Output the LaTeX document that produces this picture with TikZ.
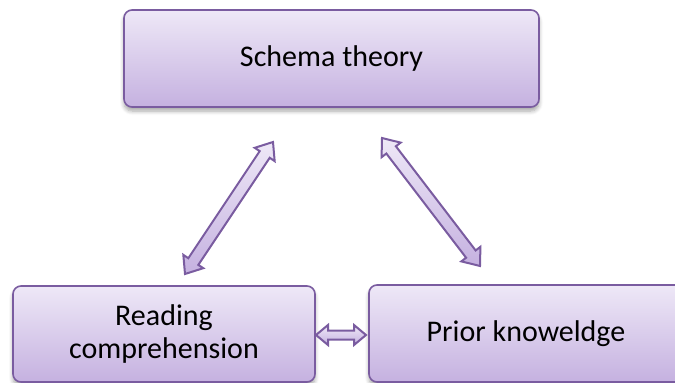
\documentclass[tikz,border=0pt]{standalone}
\usepackage{fontspec}
\setmainfont{Carlito}
\usetikzlibrary{calc,shadows,shadows.blur}

\definecolor{boxline}{HTML}{7A5CA0}
\definecolor{boxtop}{HTML}{EEE8F7}
\definecolor{boxbottom}{HTML}{C5B1E0}

\tikzset{
  conceptbox/.style={
    draw=boxline, line width=1.6pt, rounded corners=8pt,
    top color=boxtop, bottom color=boxbottom,
    blur shadow={shadow xshift=0pt, shadow yshift=-4pt, shadow blur steps=6,
                 shadow opacity=35, shadow blur radius=4pt},
    font=\fontsize{30}{33}\selectfont, align=center, inner sep=0pt
  },
  blockarrow/.style={
    draw=boxline, line width=2pt, line join=miter,
    top color=boxtop, bottom color=boxbottom
  }
}

% double-headed block arrow between two named coordinates:
% #1, #2 = tips, #3 = head length, #4 = half head width, #5 = half shaft width
\newcommand\twowayarrow[5]{%
  \draw[blockarrow]
    (#1)
    -- ($(#1)!#3!(#2)!#4!90:(#2)$)
    -- ($(#1)!#3!(#2)!#5!90:(#2)$)
    -- ($(#2)!#3!(#1)!#5!-90:(#1)$)
    -- ($(#2)!#3!(#1)!#4!-90:(#1)$)
    -- (#2)
    -- ($(#2)!#3!(#1)!#4!90:(#1)$)
    -- ($(#2)!#3!(#1)!#5!90:(#1)$)
    -- ($(#1)!#3!(#2)!#5!-90:(#2)$)
    -- ($(#1)!#3!(#2)!#4!-90:(#2)$)
    -- cycle;}

\begin{document}
\begin{tikzpicture}[x=1pt,y=-1pt]
  \useasboundingbox (0,0) rectangle (675,383);
  \clip (0,0) rectangle (675,383);

  % concept boxes
  \node[conceptbox, minimum width=415pt, minimum height=97pt]
    (schema) at (331.5,58.5) {Schema theory};
  \node[conceptbox, minimum width=302pt, minimum height=96pt]
    (reading) at (164,334) {Reading\\comprehension};
  \node[conceptbox, minimum width=314pt, minimum height=97pt]
    (prior) at (526,333.5) {Prior knoweldge};

  % arrow tips between the boxes
  \coordinate (rs) at (185,274);
  \coordinate (sr) at (273,142);
  \coordinate (sp) at (382,138);
  \coordinate (ps) at (480,266);
  \coordinate (rp) at (316,335);
  \coordinate (pr) at (366,335);

  \twowayarrow{rs}{sr}{15pt}{12pt}{6pt}
  \twowayarrow{sp}{ps}{15pt}{12pt}{6pt}
  \twowayarrow{rp}{pr}{12pt}{10pt}{4.5pt}
\end{tikzpicture}
\end{document}
